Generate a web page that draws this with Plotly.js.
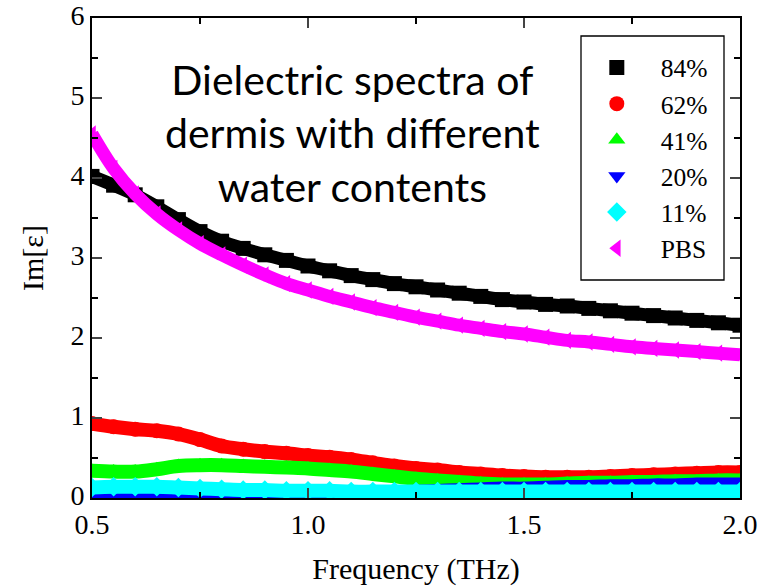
<!DOCTYPE html>
<html>
<head>
<meta charset="utf-8">
<script src="https://cdn.plot.ly/plotly-3.0.1.min.js"></script>
<style>html,body{margin:0;padding:0;background:#fff;}#chart{width:761px;height:586px;}</style>
</head>
<body>
<div id="chart"></div>
<script>
const freq = [0.50,0.55,0.60,0.65,0.70,0.75,0.80,0.85,0.90,0.95,1.00,1.05,1.10,1.15,1.20,1.25,1.30,1.35,1.40,1.45,1.50,1.55,1.60,1.65,1.70,1.75,1.80,1.85,1.90,1.95,2.00];
const w84 = [4.02,3.91,3.79,3.64,3.48,3.33,3.21,3.12,3.04,2.97,2.90,2.84,2.78,2.73,2.68,2.64,2.60,2.56,2.52,2.48,2.45,2.42,2.40,2.37,2.34,2.31,2.28,2.25,2.22,2.19,2.16];
const w62 = [0.93,0.89,0.86,0.84,0.80,0.73,0.65,0.61,0.58,0.56,0.53,0.51,0.48,0.44,0.40,0.37,0.35,0.32,0.30,0.28,0.27,0.26,0.26,0.26,0.27,0.28,0.29,0.30,0.31,0.32,0.32];
const w41 = [0.34,0.33,0.33,0.36,0.40,0.41,0.41,0.40,0.39,0.38,0.37,0.35,0.33,0.30,0.27,0.24,0.22,0.20,0.18,0.17,0.17,0.17,0.18,0.19,0.19,0.20,0.20,0.21,0.21,0.22,0.22];
const w20 = [0.04,0.04,0.03,0.03,0.03,0.03,0.03,0.03,0.04,0.05,0.05,0.06,0.07,0.07,0.08,0.09,0.10,0.11,0.12,0.13,0.13,0.14,0.15,0.15,0.16,0.16,0.17,0.17,0.18,0.18,0.18];
const w11 = [0.13,0.14,0.14,0.14,0.13,0.12,0.11,0.10,0.10,0.09,0.09,0.09,0.08,0.08,0.08,0.08,0.08,0.08,0.08,0.08,0.08,0.08,0.08,0.08,0.08,0.08,0.08,0.08,0.08,0.08,0.08];
const pbs = [4.55,4.12,3.80,3.55,3.35,3.18,3.04,2.91,2.79,2.68,2.60,2.52,2.45,2.38,2.32,2.26,2.21,2.16,2.12,2.08,2.05,2.01,1.97,1.95,1.92,1.89,1.87,1.85,1.83,1.81,1.79];

const seriesNames = ['84%','62%','41%','20%','11%','PBS'];
const seriesData = [w84,w62,w41,w20,w11,pbs];
const colors = ['#000000','#ff0000','#00ff00','#0000ff','#00ffff','#ff00ff'];
const symbols = ['square','circle','triangle-up','triangle-down','diamond','triangle-left'];
const lineWidths = [13,14,14,12,14,13];

const traces = [];
seriesData.forEach((ys,i)=>{
  traces.push({x:freq,y:ys,type:'scatter',mode:'lines',showlegend:false,hoverinfo:'skip',
    line:{color:colors[i],width:lineWidths[i],shape:'spline'}});
  traces.push({x:freq,y:ys,type:'scatter',mode:'markers',name:seriesNames[i],
    marker:{color:colors[i],symbol:symbols[i],size:15,line:{width:0}}});
});

const SERIF = 'Liberation Serif';
const layout = {
  width:761,height:586,
  margin:{l:92,r:21,t:18,b:88},
  paper_bgcolor:'#fff',plot_bgcolor:'#fff',
  font:{family:SERIF,color:'#000'},
  xaxis:{range:[0.5,2.0],dtick:0.5,tick0:0.5,tickformat:'.1f',ticks:'inside',ticklen:10,tickwidth:2,
    showline:true,linewidth:2,linecolor:'#000',mirror:'ticks',showgrid:false,zeroline:false,
    minor:{dtick:0.25,ticks:'inside',ticklen:6,tickwidth:1.5,tickcolor:'#000'},
    tickfont:{family:SERIF,size:28,color:'#000'},
    title:{text:'Frequency (THz)',font:{family:SERIF,size:30,color:'#000'},standoff:20}},
  yaxis:{range:[0,6],dtick:1,ticks:'inside',ticklen:10,tickwidth:2,
    showline:true,linewidth:2,linecolor:'#000',mirror:'ticks',showgrid:false,zeroline:false,
    minor:{dtick:0.5,ticks:'inside',ticklen:6,tickwidth:1.5,tickcolor:'#000'},
    tickfont:{family:SERIF,size:28,color:'#000'},ticklabelshift:-3,ticklabeloverflow:'allow',
    title:{text:'Im[ε]',font:{family:SERIF,size:30,color:'#000'},standoff:18}},
  legend:{x:0.742,y:0.945,xanchor:'left',yanchor:'top',bgcolor:'rgba(0,0,0,0)',borderwidth:0,
    font:{family:SERIF,size:25.5,color:'#000'},itemwidth:78,tracegroupgap:0},
  shapes:[{type:'rect',xref:'paper',yref:'paper',x0:(581-92)/648,x1:(724-92)/648,y0:(498-280)/480,y1:(498-36)/480,
    line:{color:'#000',width:1.3},fillcolor:'rgba(0,0,0,0)'}],
  annotations:[{xref:'paper',yref:'paper',x:(352-92)/648,y:(498-133)/480,xanchor:'center',yanchor:'middle',showarrow:false,align:'center',
    text:'Dielectric spectra of<br>dermis with different<br>water contents',
    font:{family:'Lato',size:41,color:'#000'}}]
};
Plotly.newPlot('chart',traces,layout,{displayModeBar:false,staticPlot:true});
</script>
</body>
</html>
